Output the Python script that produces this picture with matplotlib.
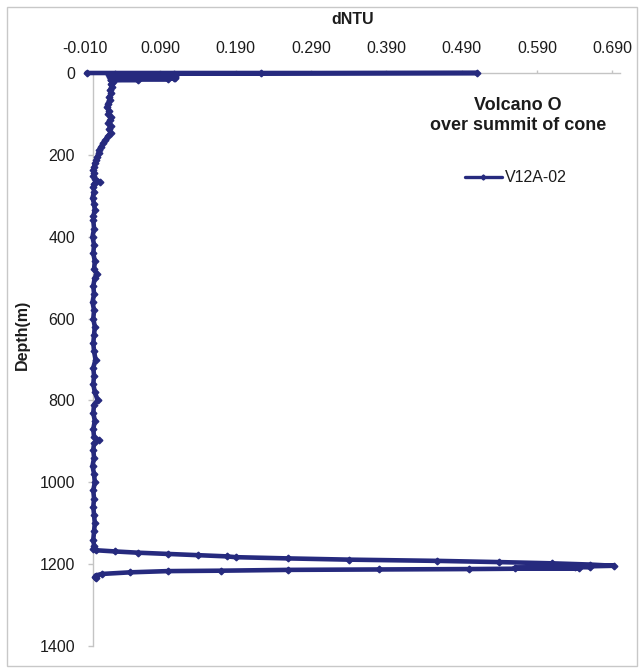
import matplotlib
matplotlib.use("Agg")
import matplotlib.pyplot as plt
from matplotlib.patches import Rectangle
from matplotlib.ticker import FixedLocator, FormatStrFormatter

plt.rcParams['font.family'] = ['Liberation Sans', 'DejaVu Sans']
plt.rcParams['axes.unicode_minus'] = False

# CTD turbidity cast V12A-02: depth (m) and turbidity anomaly (dNTU)
depth_m = [
    0, 0, 1, 2, 3, 4, 5, 6, 7, 8, 9, 10, 11, 12, 13, 14, 15, 16, 17, 18,
    22, 28, 35, 42, 50, 58, 66, 75,
    83, 92, 100, 108, 115, 122, 130, 138, 147, 155, 164, 172, 180, 188, 196,
    205, 213, 221, 230, 237, 245, 252, 260, 266, 270, 278, 290, 305, 320, 335,
    350, 360, 380, 400, 420, 440, 460, 480, 490, 500, 520, 540, 560, 580, 600,
    620, 640, 660, 680, 700, 720, 740, 760, 780, 800, 810, 830, 850, 870, 890,
    897, 905, 920, 940, 960, 980, 1000, 1020, 1040, 1060, 1080, 1100, 1120,
    1140, 1155, 1163,
    1166, 1169, 1172, 1175, 1178, 1181, 1183, 1186, 1189, 1192, 1195, 1198,
    1201, 1204, 1206, 1207, 1209, 1210, 1212, 1213, 1214, 1216, 1217, 1220,
    1224, 1228, 1231, 1233,
]
dntu = [
    -0.008, 0.510, 0.224, 0.030, 0.108, 0.024, 0.110, 0.022, 0.109, 0.025,
    0.110, 0.023, 0.108, 0.026, 0.110, 0.024, 0.100, 0.025, 0.060, 0.025,
    0.027, 0.024, 0.026, 0.023, 0.025, 0.022, 0.023, 0.020,
    0.019, 0.022, 0.021, 0.024, 0.023, 0.021, 0.024, 0.022, 0.024, 0.020,
    0.017, 0.014, 0.011, 0.009, 0.008, 0.006, 0.005, 0.003, 0.002, 0.001,
    0.002, 0.001, 0.003, 0.010, 0.002, 0.001, 0.002, 0.000, 0.002, 0.003,
    0.001, 0.001, 0.002, 0.000, 0.002, 0.001, 0.003, 0.002, 0.006, 0.003,
    0.001, 0.002, 0.000, 0.002, 0.001, 0.003, 0.002, 0.001, 0.002, 0.004,
    0.001, 0.002, 0.001, 0.003, 0.007, 0.002, 0.001, 0.003, 0.001, 0.002,
    0.008, 0.002, 0.001, 0.002, 0.000, 0.002, 0.003, 0.001, 0.002, 0.001,
    0.002, 0.003, 0.002, 0.001, 0.002, 0.001,
    0.004, 0.030, 0.060, 0.100, 0.140, 0.178, 0.190, 0.260, 0.340, 0.457,
    0.540, 0.610, 0.660, 0.692, 0.640, 0.660, 0.560, 0.646, 0.500, 0.380,
    0.260, 0.170, 0.100, 0.050, 0.012, 0.004, 0.003, 0.005,
]
series_label = "V12A-02"
title_lines = ["Volcano O", "over summit of cone"]
x_ticks = [-0.010, 0.090, 0.190, 0.290, 0.390, 0.490, 0.590, 0.690]
y_ticks = [0, 200, 400, 600, 800, 1000, 1200, 1400]

W, H = 644, 670
fig = plt.figure(figsize=(W / 100, H / 100), dpi=100)
ax = fig.add_axes([85 / W, 1 - 646 / H, (620 - 85) / W, (646 - 73) / H])

navy = '#262a7e'
axis_grey = '#c4c4c4'
text_col = '#1c1c1c'

ax.plot(dntu, depth_m, color=navy, lw=3.3, marker='D', ms=3.4,
        solid_joinstyle='round', solid_capstyle='round', clip_on=False,
        label=series_label, zorder=3)

ax.set_xlim(-0.010, 0.700)
ax.set_ylim(1400, 0)

# depth axis crosses at zero turbidity, value axis along the top
for side in ('right', 'bottom'):
    ax.spines[side].set_visible(False)
ax.spines['left'].set_position(('data', 0))
for side in ('left', 'top'):
    ax.spines[side].set_color(axis_grey)
    ax.spines[side].set_linewidth(1.0)
    ax.spines[side].set_zorder(1)
ax.set_zorder(1)

ax.xaxis.tick_top()
ax.xaxis.set_major_locator(FixedLocator(x_ticks))
ax.xaxis.set_major_formatter(FormatStrFormatter('%.3f'))
ax.yaxis.set_major_locator(FixedLocator(y_ticks))
ax.tick_params(axis='x', direction='out', length=2.5, width=1, color=axis_grey,
               pad=10, labelsize=11.5, labelcolor=text_col)
ax.tick_params(axis='y', direction='out', length=3.6, width=1, color=axis_grey,
               pad=9, labelsize=11.5, labelcolor=text_col)

fig.text((85 + 620) / 2 / W, 1 - 19 / H, 'dNTU', ha='center', va='center',
         fontsize=11.5, fontweight='bold', color=text_col)
fig.text(22 / W, 1 - 335 / H, 'Depth(m)', ha='center', va='center',
         rotation=90, fontsize=11.5, fontweight='bold', color=text_col)

fig.text(518 / W, 1 - 105 / H, title_lines[0], ha='center', va='center',
         fontsize=13, fontweight='bold', color=text_col)
fig.text(518 / W, 1 - 126 / H, title_lines[1], ha='center', va='center',
         fontsize=13, fontweight='bold', color=text_col)

leg = ax.legend(loc='center left', bbox_to_anchor=(465 / W, 1 - 178 / H),
                bbox_transform=fig.transFigure, frameon=False, borderpad=0,
                borderaxespad=0, handlelength=2.3, handletextpad=0.2,
                fontsize=11.5)
for t in leg.get_texts():
    t.set_color(text_col)
for ln in leg.get_lines():
    ln.set_linewidth(2.4)
    ln.set_markersize(2.6)

fig.patches.append(Rectangle((7 / W, 1 - 666 / H), (637 - 7) / W, (666 - 7) / H,
                             transform=fig.transFigure, fill=False,
                             edgecolor='#c8c8c8', linewidth=1.0))

fig.savefig('out.png', dpi=100)
